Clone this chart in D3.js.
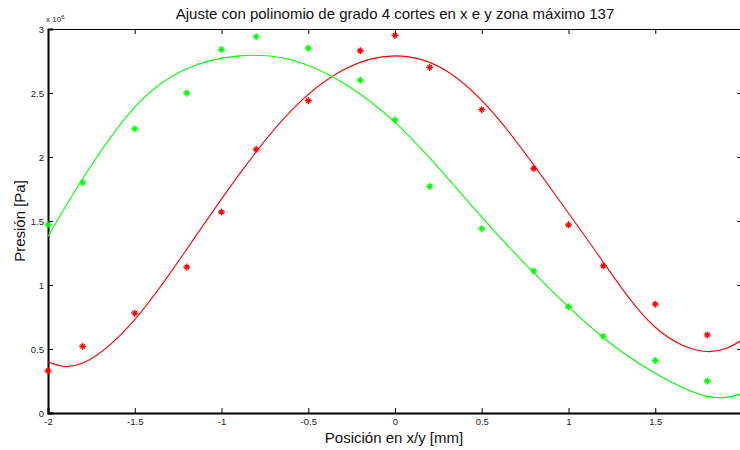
<!DOCTYPE html>
<html>
<head>
<meta charset="utf-8">
<script src="https://cdn.jsdelivr.net/npm/d3@7"></script>
<style>
  body { margin: 0; background: #fff; }
  svg { display: block; font-family: "Liberation Sans", Arial, sans-serif; }
</style>
</head>
<body>
<svg id="chart" width="740" height="450"></svg>
<script>
// puntos medidos (x en mm, presion en 1e6 Pa)
const posX = [-2, -1.8, -1.5, -1.2, -1, -0.8, -0.5, -0.2, 0, 0.2, 0.5, 0.8, 1, 1.2, 1.5, 1.8];
const presRojo = [0.33, 0.52, 0.78, 1.14, 1.57, 2.06, 2.44, 2.83, 2.95, 2.70, 2.37, 1.91, 1.47, 1.15, 0.85, 0.61];
const presVerde = [1.47, 1.80, 2.22, 2.50, 2.84, 2.94, 2.85, 2.60, 2.29, 1.77, 1.44, 1.11, 0.83, 0.60, 0.41, 0.25];

// curvas de ajuste
const ajusteX = [-2, -1.8, -1.5, -1.2, -0.9, -0.6, -0.3, 0, 0.3, 0.6, 0.9, 1.2, 1.5, 1.8, 2];
const ajusteRojo = [0.40, 0.39, 0.73, 1.28, 1.86, 2.36, 2.68, 2.79, 2.67, 2.29, 1.75, 1.18, 0.67, 0.48, 0.57];
const ajusteVerde = [1.38, 1.83, 2.39, 2.69, 2.79, 2.76, 2.58, 2.27, 1.84, 1.38, 0.96, 0.59, 0.31, 0.13, 0.15];

const xTicks = [-2, -1.5, -1, -0.5, 0, 0.5, 1, 1.5, 2];
const yTicks = [0, 0.5, 1, 1.5, 2, 2.5, 3];

const svg = d3.select('#chart');
const mL = 48, mR = 742, mT = 29, mB = 413;

const x = d3.scaleLinear().domain([-2, 2]).range([mL, mR]);
const y = d3.scaleLinear().domain([0, 3]).range([mB, mT]);

// ejes (guion normal como en matlab)
const fmt = (d) => d3.format('~g')(d).replace('−', '-');
const axB = d3.axisBottom(x).tickValues(xTicks).tickSize(-5).tickPadding(5)
  .tickFormat((d) => (d === 2 ? '' : fmt(d)));
const axL = d3.axisLeft(y).tickValues(yTicks).tickSize(-5).tickPadding(4).tickFormat(fmt);
const axT = d3.axisTop(x).tickValues(xTicks).tickSize(-5).tickFormat('');
const axR = d3.axisRight(y).tickValues(yTicks).tickSize(-5).tickFormat('');

const gB = svg.append('g').attr('transform', `translate(0,${mB})`).call(axB);
const gL = svg.append('g').attr('transform', `translate(${mL},0)`).call(axL);
svg.append('g').attr('transform', `translate(0,${mT})`).call(axT);
svg.append('g').attr('transform', `translate(${mR},0)`).call(axR);

svg.selectAll('.domain').attr('stroke', '#000').attr('stroke-width', 1);
gB.select('.domain').attr('stroke-width', 2);
gL.select('.domain').attr('stroke-width', 2);
svg.selectAll('.tick line').attr('stroke', '#000');
svg.selectAll('.tick text').attr('font-size', 9.5).attr('fill', '#222').attr('font-family', '"Liberation Sans", Arial, sans-serif');

svg.append('text').attr('x', mL - 2).attr('y', 22).attr('font-size', 8).attr('fill', '#222')
  .text('x 10').append('tspan').attr('dy', -3).attr('font-size', 6).text('6');

// curvas
const line = d3.line().x((d) => x(d[0])).y((d) => y(d[1])).curve(d3.curveNatural);
svg.append('clipPath').attr('id', 'clip').append('rect')
  .attr('x', mL).attr('y', mT).attr('width', mR - mL).attr('height', mB - mT);

const series = [
  { fit: ajusteRojo, pts: presRojo, color: '#ff0000' },
  { fit: ajusteVerde, pts: presVerde, color: '#00ff00' }
];

series.forEach((s) => {
  svg.append('path')
    .attr('d', line(ajusteX.map((v, i) => [v, s.fit[i]])))
    .attr('fill', 'none').attr('stroke', s.color).attr('stroke-width', 1.1)
    .attr('clip-path', 'url(#clip)');

  const r = 3.5, r2 = 2.2;
  svg.append('g').selectAll('path').data(posX.map((v, i) => [v, s.pts[i]])).join('path')
    .attr('d', (d) => {
      const cx = x(d[0]), cy = y(d[1]);
      return `M${cx - r},${cy}H${cx + r}M${cx},${cy - r}V${cy + r}` +
        `M${cx - r2},${cy - r2}L${cx + r2},${cy + r2}M${cx - r2},${cy + r2}L${cx + r2},${cy - r2}`;
    })
    .attr('stroke', s.color).attr('stroke-width', 1.3).attr('fill', 'none');
});

// textos
svg.append('text').attr('x', 395).attr('y', 19).attr('text-anchor', 'middle')
  .attr('font-size', 15).attr('fill', '#111')
  .text('Ajuste con polinomio de grado 4 cortes en x e y zona máximo 137');
svg.append('text').attr('x', 394).attr('y', 443).attr('text-anchor', 'middle')
  .attr('font-size', 15).attr('fill', '#111').text('Posición en x/y [mm]');
svg.append('text').attr('transform', 'translate(25,221) rotate(-90)').attr('text-anchor', 'middle')
  .attr('font-size', 15).attr('fill', '#111').text('Presión [Pa]');
</script>
</body>
</html>
